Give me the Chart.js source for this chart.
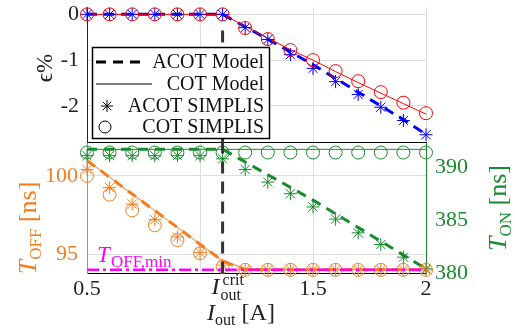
<!DOCTYPE html>
<html>
<head>
<meta charset="utf-8">
<script src="https://cdn.jsdelivr.net/npm/chart.js@4/dist/chart.umd.min.js"></script>
<style>
  body { margin: 0; background: #fff; }
  #wrap { position: relative; width: 515px; height: 331px; overflow: hidden; }
  canvas { position: absolute; left: 0; }
  #topc { top: 0; }
  #botc { top: 130px; }
</style>
</head>
<body>
<div id="wrap">
  <canvas id="topc" width="515" height="150"></canvas>
  <canvas id="botc" width="515" height="201"></canvas>
</div>
<script>
// output current sweep [A]
const iout = [0.5, 0.6, 0.7, 0.8, 0.9, 1.0, 1.1, 1.2, 1.3, 1.4, 1.5, 1.6, 1.7, 1.8, 1.9, 2.0];
const iCrit = 1.1;
const xTicks = [0.5, 1, 1.1, 1.5, 2];
const xTickLabels = ['0.5', '', '', '1.5', '2'];

// top panel: error in %
const epsTicks = [-2, -1, 0];
const epsAcotModel = [0, 0, 0, 0, 0, 0, 0, -0.27, -0.54, -0.82, -1.1, -1.4, -1.7, -2.0, -2.3, -2.62];
const epsCotModel  = [0, 0, 0, 0, 0, 0, 0, -0.26, -0.52, -0.77, -1.0, -1.25, -1.49, -1.72, -1.95, -2.18];
const epsAcotSim   = [0, 0, 0, 0, 0, 0, 0, -0.29, -0.55, -0.88, -1.18, -1.47, -1.75, -2.03, -2.32, -2.63];
const epsCotSim    = [0, 0, 0, 0, 0, 0, 0, -0.3, -0.54, -0.78, -1.0, -1.24, -1.46, -1.7, -1.93, -2.16];
const epsCritSpan  = [-0.35, -2.8];

// bottom panel: T_OFF [ns] (left axis)
const toffTicks = [95, 100];
const toffMin = 94.0;
const toffCotModel  = [100.98, 99.91, 98.84, 97.78, 96.71, 95.64, 94.57, 94.08, 94.05, 94.05, 94.05, 94.05, 94.05, 94.05, 94.05, 94.05];
const toffAcotModel = [100.98, 99.91, 98.84, 97.78, 96.71, 95.64, 94.57, 94.0, 94.0, 94.0, 94.0, 94.0, 94.0, 94.0, 94.0, 94.0];
const toffCotSim    = [100.0, 98.8, 97.8, 96.85, 95.9, 95.05, 94.2, 94.0, 94.0, 94.0, 94.0, 94.0, 94.0, 94.0, 94.0, 94.0];
const toffAcotSim   = [100.4, 99.25, 98.2, 97.2, 96.1, 95.1, 94.3, 94.0, 94.0, 94.0, 94.0, 94.0, 94.0, 94.0, 94.0, 94.0];
const toffCritSpan  = [102.2, 93.8];

// bottom panel: T_ON [ns] (right axis)
const tonTicks = [380, 385, 390];
const tonCotModel  = [391.7, 391.7, 391.7, 391.7, 391.7, 391.7, 391.7, 391.7, 391.7, 391.7, 391.7, 391.7, 391.7, 391.7, 391.7, 391.7];
const tonAcotModel = [391.7, 391.7, 391.7, 391.7, 391.7, 391.7, 391.7, 390.5, 389.3, 388.1, 386.9, 385.6, 384.3, 383.0, 381.7, 380.4];
const tonCotSim    = [391.4, 391.4, 391.4, 391.4, 391.4, 391.4, 391.4, 391.4, 391.4, 391.4, 391.4, 391.4, 391.4, 391.4, 391.4, 391.4];
const tonAcotSim   = [391.1, 391.1, 391.1, 391.1, 391.1, 391.1, 390.8, 389.8, 388.6, 387.5, 386.25, 385.1, 383.8, 382.7, 381.5, 380.4];

const legendLabels = ['ACOT Model', 'COT Model', 'ACOT SIMPLIS', 'COT SIMPLIS'];

const SERIF = '"Liberation Serif", "DejaVu Serif", serif';
const ORANGE = '#f57d1f';
const GREEN = '#1a8a2e';
const GRID = '#dedede';

const pts = arr => iout.map((x, i) => ({ x: x, y: arr[i] }));
const vline = span => span.map(v => ({ x: iCrit, y: v }));

function lineSet(data, color, axis, dashed) {
  return {
    data: data, yAxisID: axis, borderColor: color, backgroundColor: color,
    borderWidth: dashed ? 3 : 1, borderDash: dashed ? [10, 7] : [],
    pointRadius: 0, tension: 0, clip: false
  };
}
function markSet(data, color, axis, style) {
  return {
    data: data, yAxisID: axis, showLine: false, borderColor: color,
    backgroundColor: 'rgba(0,0,0,0)', pointStyle: style,
    pointRadius: 6.5, pointBorderWidth: 1, clip: false
  };
}

// draw text made of pieces with different fonts/offsets (sub/superscripts)
function rich(ctx, x, y, parts, angle, color) {
  ctx.save();
  ctx.translate(x, y);
  ctx.rotate(angle || 0);
  ctx.fillStyle = color;
  ctx.textBaseline = 'alphabetic';
  ctx.textAlign = 'left';
  let w = 0;
  parts.forEach(p => { ctx.font = p[1]; w += ctx.measureText(p[0]).width; });
  let cx = -w / 2;
  parts.forEach(p => {
    ctx.font = p[1];
    ctx.fillText(p[0], cx, p[2] || 0);
    cx += ctx.measureText(p[0]).width;
  });
  ctx.restore();
}

const xScaleBase = {
  type: 'linear', min: 0.5, max: 2,
  afterBuildTicks: s => { s.ticks = xTicks.map(v => ({ value: v })); },
  grid: { color: c => (c.tick && c.tick.value === iCrit) ? 'rgba(0,0,0,0)' : GRID, drawTicks: false },
  border: { color: '#000', width: 1 }
};

// ---------- top panel ----------
const topDeco = {
  id: 'topDeco',
  afterDraw(chart) {
    const ctx = chart.ctx;
    rich(ctx, 52, 68, [['\u03F5%', '23px ' + SERIF, 0]], -Math.PI / 2, '#222');

    // legend box
    ctx.save();
    ctx.fillStyle = '#fff';
    ctx.fillRect(92, 47, 178, 92);
    ctx.strokeStyle = '#000';
    ctx.lineWidth = 1.5;
    ctx.strokeRect(92.5, 47.5, 177, 91);
    const rows = [62, 84, 106, 127];
    ctx.strokeStyle = '#000';
    ctx.lineWidth = 3;
    ctx.setLineDash([10, 7]);
    ctx.beginPath(); ctx.moveTo(96, rows[0]); ctx.lineTo(140, rows[0]); ctx.stroke();
    ctx.setLineDash([]);
    ctx.lineWidth = 1;
    ctx.beginPath(); ctx.moveTo(96, rows[1]); ctx.lineTo(152, rows[1]); ctx.stroke();
    const sx = 107, sy = rows[2], r = 6;
    ctx.beginPath();
    for (let k = 0; k < 4; k++) {
      const a = k * Math.PI / 4;
      ctx.moveTo(sx - r * Math.cos(a), sy - r * Math.sin(a));
      ctx.lineTo(sx + r * Math.cos(a), sy + r * Math.sin(a));
    }
    ctx.stroke();
    ctx.beginPath(); ctx.arc(105, rows[3], 6, 0, 2 * Math.PI); ctx.stroke();
    ctx.fillStyle = '#111';
    ctx.font = '20px ' + SERIF;
    ctx.textAlign = 'right';
    ctx.textBaseline = 'middle';
    legendLabels.forEach((t, i) => ctx.fillText(t, 264, rows[i] + 1));
    ctx.restore();
  }
};

new Chart(document.getElementById('topc'), {
  type: 'line',
  data: {
    datasets: [
      markSet(pts(epsCotSim), '#ff0000', 'y', 'circle'),
      markSet(pts(epsAcotSim), '#0000ff', 'y', 'star'),
      lineSet(pts(epsCotModel), '#ff0000', 'y', false),
      lineSet(pts(epsAcotModel), '#0000ff', 'y', true),
      Object.assign(lineSet(vline(epsCritSpan), '#333333', 'y', true), { borderDash: [12, 8] })
    ]
  },
  options: {
    responsive: false, animation: false,
    layout: { padding: { left: 0, right: 89, top: 7, bottom: 7 } },
    plugins: { legend: { display: false }, tooltip: { enabled: false } },
    scales: {
      x: Object.assign({}, xScaleBase, {
        ticks: { display: false },
        afterFit: s => { s.height = 0; s.paddingLeft = 0; s.paddingRight = 0; }
      }),
      y: {
        min: -2.8, max: 0.15,
        afterBuildTicks: s => { s.ticks = epsTicks.map(v => ({ value: v })); },
        ticks: { font: { family: SERIF, size: 22 }, color: '#222', padding: 8, callback: v => String(v) },
        grid: { color: GRID, drawTicks: false },
        border: { color: '#222', width: 1 },
        afterFit: s => { s.width = 87; s.paddingTop = 0; s.paddingBottom = 0; }
      }
    }
  },
  plugins: [topDeco]
});

// ---------- bottom panel ----------
const botDeco = {
  id: 'botDeco',
  afterDraw(chart) {
    const ctx = chart.ctx;
    const xs = chart.scales.x, yo = chart.scales.yOff;
    const it = '24px ' + SERIF, itI = 'italic 24px ' + SERIF, sub = '16px ' + SERIF;

    // I_out^crit tick label
    const cx = xs.getPixelForValue(iCrit) - 11;
    ctx.save();
    ctx.fillStyle = '#222';
    ctx.font = itI; ctx.textBaseline = 'alphabetic';
    ctx.fillText('I', cx, 164);
    ctx.font = sub;
    ctx.fillText('crit', cx + 11, 155);
    ctx.fillText('out', cx + 9, 170);
    ctx.restore();

    // x-axis title
    rich(ctx, 241, 190, [['I', itI, 0], ['out', sub, 5], [' [A]', it, 0]], 0, '#222');

    // left / right titles
    rich(ctx, 36, 98, [['T', 'italic 26px ' + SERIF, 0], ['OFF', '17px ' + SERIF, 5], [' [ns]', '26px ' + SERIF, 0]], -Math.PI / 2, ORANGE);
    rich(ctx, 506, 78, [['T', 'italic 26px ' + SERIF, 0], ['ON', '17px ' + SERIF, 5], [' [ns]', '26px ' + SERIF, 0]], -Math.PI / 2, GREEN);

    // T_OFF,min label
    const ym = yo.getPixelForValue(toffMin);
    ctx.save();
    ctx.fillStyle = '#ff00ff';
    ctx.textBaseline = 'alphabetic';
    ctx.font = 'italic 23px ' + SERIF;
    ctx.fillText('T', chart.chartArea.left + 10, ym - 8);
    ctx.font = '17px ' + SERIF;
    ctx.fillText('OFF,min', chart.chartArea.left + 24, ym - 3);
    ctx.restore();
  }
};

new Chart(document.getElementById('botc'), {
  type: 'line',
  data: {
    datasets: [
      Object.assign(lineSet([{ x: 0.5, y: toffMin }, { x: 2, y: toffMin }], '#ff00ff', 'yOff', true), { borderWidth: 2.5, borderDash: [12, 4, 3, 4] }),
      Object.assign(lineSet(vline(toffCritSpan), '#333333', 'yOff', true), { borderDash: [12, 8] }),
      lineSet(pts(toffAcotModel), ORANGE, 'yOff', true),
      lineSet(pts(toffCotModel), ORANGE, 'yOff', false),
      markSet(pts(toffCotSim), ORANGE, 'yOff', 'circle'),
      markSet(pts(toffAcotSim), ORANGE, 'yOff', 'star'),
      lineSet(pts(tonAcotModel), GREEN, 'yOn', true),
      lineSet(pts(tonCotModel), GREEN, 'yOn', false),
      markSet(pts(tonCotSim), GREEN, 'yOn', 'circle'),
      markSet(pts(tonAcotSim), GREEN, 'yOn', 'star')
    ]
  },
  options: {
    responsive: false, animation: false,
    layout: { padding: { left: 0, right: 0, top: 13, bottom: 0 } },
    plugins: { legend: { display: false }, tooltip: { enabled: false } },
    scales: {
      x: Object.assign({}, xScaleBase, {
        ticks: {
          font: { family: SERIF, size: 22 }, color: '#222', padding: 3, maxRotation: 0,
          callback: (v, i) => xTickLabels[i]
        },
        afterFit: s => { s.height = 58; s.paddingLeft = 0; s.paddingRight = 0; }
      }),
      yOff: {
        position: 'left', min: 93.8, max: 102.1,
        afterBuildTicks: s => { s.ticks = toffTicks.map(v => ({ value: v })); },
        ticks: { font: { family: SERIF, size: 22 }, color: ORANGE, padding: 9, callback: v => String(v) },
        grid: { color: GRID, drawTicks: false },
        border: { color: ORANGE, width: 1 },
        afterFit: s => { s.width = 87; s.paddingTop = 0; s.paddingBottom = 0; }
      },
      yOn: {
        position: 'right', min: 380, max: 392.3,
        afterBuildTicks: s => { s.ticks = tonTicks.map(v => ({ value: v })); },
        ticks: { font: { family: SERIF, size: 22 }, color: GREEN, padding: 9, callback: v => String(v) },
        grid: { display: false, drawTicks: false },
        border: { color: GREEN, width: 1 },
        afterFit: s => { s.width = 89; s.paddingTop = 0; s.paddingBottom = 0; }
      }
    }
  },
  plugins: [botDeco]
});
</script>
</body>
</html>
